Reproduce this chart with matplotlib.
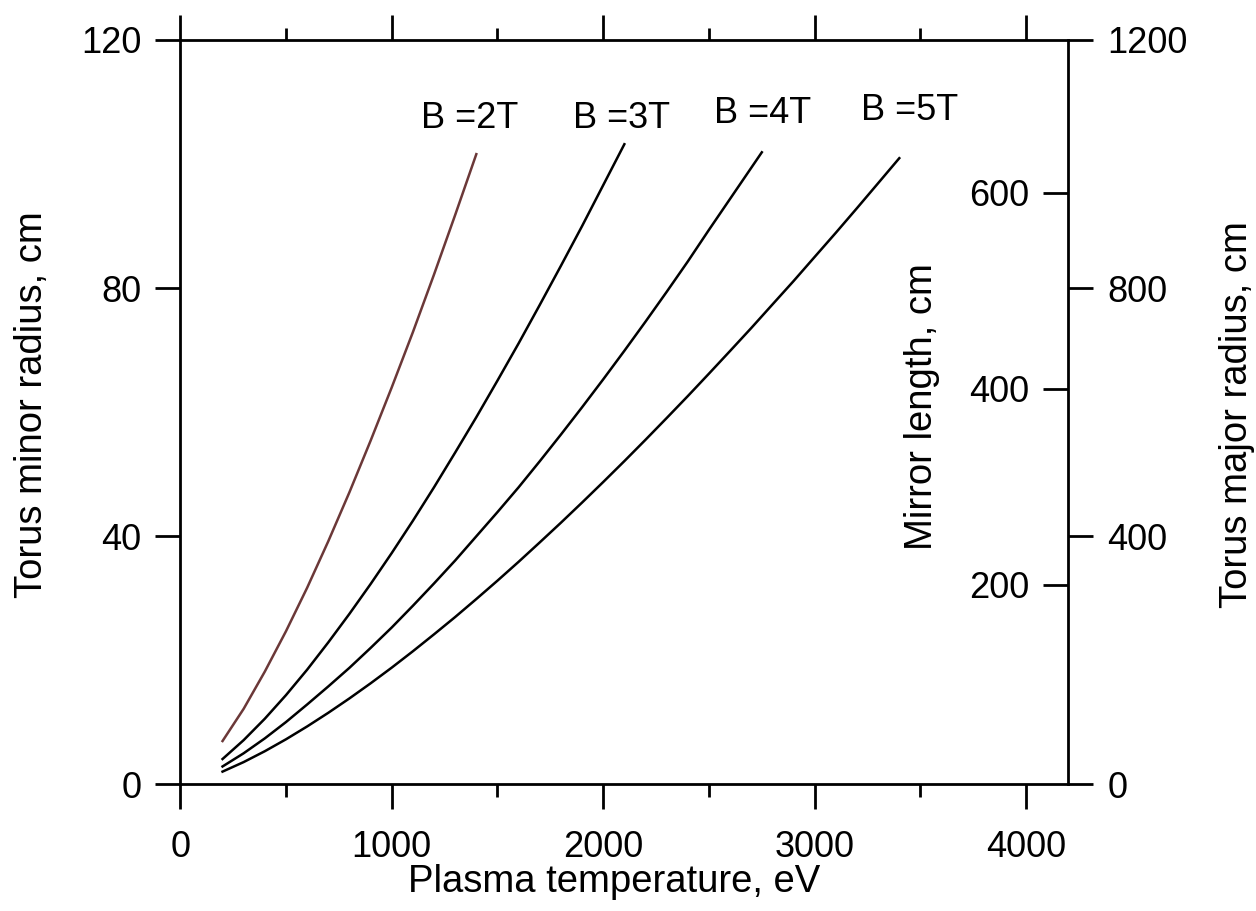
import matplotlib
matplotlib.use('Agg')
import matplotlib.pyplot as plt
from matplotlib.ticker import MultipleLocator

plt.rcParams['font.family'] = ['Liberation Sans', 'DejaVu Sans']

# plasma temperature (eV) and torus minor radius (cm)
t_2T = [200, 300, 400, 500, 600, 700, 800, 900, 1000, 1100, 1200, 1300, 1400]
r_2T = [7.0, 12.2, 18.2, 24.7, 31.7, 39.2, 47.1, 55.4, 64.0, 72.9, 82.2, 91.8, 101.6]

t_3T = [200, 300, 400, 500, 600, 700, 800, 900, 1000, 1100, 1200, 1300, 1400,
        1500, 1600, 1700, 1800, 1900, 2000, 2100]
r_3T = [4.1, 7.15, 10.6, 14.4, 18.5, 22.9, 27.5, 32.3, 37.3, 42.5, 47.9, 53.5, 59.2,
        65.1, 71.1, 77.3, 83.6, 90.0, 96.6, 103.2]

t_4T = [200, 300, 400, 500, 600, 700, 800, 900, 1000, 1100, 1200, 1300, 1400,
        1500, 1600, 1700, 1800, 1900, 2000, 2100, 2200, 2300, 2400, 2500, 2600,
        2700, 2750]
r_4T = [2.9, 5.03, 7.43, 10.06, 12.89, 15.8, 18.8, 22.0, 25.3, 28.8, 32.4, 36.1, 40.0,
        43.9, 47.9, 52.1, 56.4, 60.8, 65.3, 69.9, 74.6, 79.4, 84.3, 89.4, 94.4,
        99.4, 101.9]

t_5T = [200, 300, 400, 500, 600, 700, 800, 900, 1000, 1100, 1200, 1300, 1400,
        1500, 1600, 1700, 1800, 1900, 2000, 2100, 2200, 2300, 2400, 2500, 2600,
        2700, 2800, 2900, 3000, 3100, 3200, 3300, 3400]
r_5T = [2.07, 3.61, 5.36, 7.28, 9.35, 11.55, 13.87, 16.30, 18.83, 21.47, 24.20, 26.99,
        29.89, 32.85, 35.89, 39.02, 42.19, 45.44, 48.75, 52.12, 55.56, 59.06, 62.60,
        66.22, 69.88, 73.57, 77.36, 81.14, 85.04, 88.93, 92.90, 96.92, 100.95]

curve_labels = ['B =2T', 'B =3T', 'B =4T', 'B =5T']
label_x = [1370, 2088, 2752, 3449]
label_y = [105.8, 105.8, 106.6, 107.1]
curve_colors = ['#6b3838', 'black', 'black', 'black']

left_ticks = [0, 40, 80, 120]
major_ticks = [0, 400, 800, 1200]
mirror_ticks = [200, 400, 600]

fs = 26
fl = 27.5
lw = 2.0
tl = 18

fig = plt.figure(figsize=(12.56, 9.11), dpi=100)
ax = fig.add_axes([0.1435, 0.1389, 0.7072, 0.8172])

for t, r, c in zip([t_2T, t_3T, t_4T, t_5T], [r_2T, r_3T, r_4T, r_5T], curve_colors):
    ax.plot(t, r, color=c, lw=1.8)
for txt, x, y in zip(curve_labels, label_x, label_y):
    ax.text(x, y, txt, ha='center', va='baseline', fontsize=fs)

ax.set_xlim(0, 4200)
ax.set_ylim(0, 120)
ax.set_yticks(left_ticks)
ax.xaxis.set_major_locator(MultipleLocator(1000))
ax.xaxis.set_minor_locator(MultipleLocator(500))
ax.tick_params(axis='x', which='major', top=True, direction='out', length=tl,
               width=lw, labelsize=fs, pad=15)
ax.tick_params(axis='x', which='minor', top=True, direction='out', length=9, width=lw)
ax.tick_params(axis='y', which='major', right=False, direction='out', length=tl,
               width=lw, labelsize=fs, pad=10)
for s in ax.spines.values():
    s.set_linewidth(lw)
ax.spines['right'].set_visible(False)

ax.set_xlabel('Plasma temperature, eV', fontsize=fl, va='center')
ax.xaxis.set_label_coords(0.488, -0.131)
ax.set_ylabel('Torus minor radius, cm', fontsize=fl, va='center')
ax.yaxis.set_label_coords(-0.167, 0.51)

# outer right axis: torus major radius
ax2 = ax.twinx()
ax2.set_ylim(0, 1200)
ax2.set_yticks(major_ticks)
ax2.tick_params(axis='y', direction='out', length=tl, width=lw, labelsize=fs, pad=10)
for s in ax2.spines.values():
    s.set_visible(False)
ax2.spines['right'].set_visible(True)
ax2.spines['right'].set_linewidth(lw)
ax2.set_ylabel('Torus major radius, cm', fontsize=fl, va='center')
ax2.yaxis.set_label_coords(1.19, 0.497)

# inner axis on the same spine: mirror length, ticks and labels inside
ax3 = ax.twinx()
ax3.set_ylim(-4, 756)
ax3.set_yticks(mirror_ticks)
for s in ax3.spines.values():
    s.set_visible(False)
ax3.yaxis.set_ticks_position('left')
ax3.yaxis.set_label_position('left')
ax3.spines['left'].set_position(('axes', 1.0))
ax3.tick_params(axis='y', direction='out', length=tl, width=lw, labelsize=fs, pad=10)
ax3.set_ylabel('Mirror length, cm', fontsize=fl, va='center')
ax3.yaxis.set_label_coords(0.835, 0.508)

fig.savefig('out.png', dpi=100)
